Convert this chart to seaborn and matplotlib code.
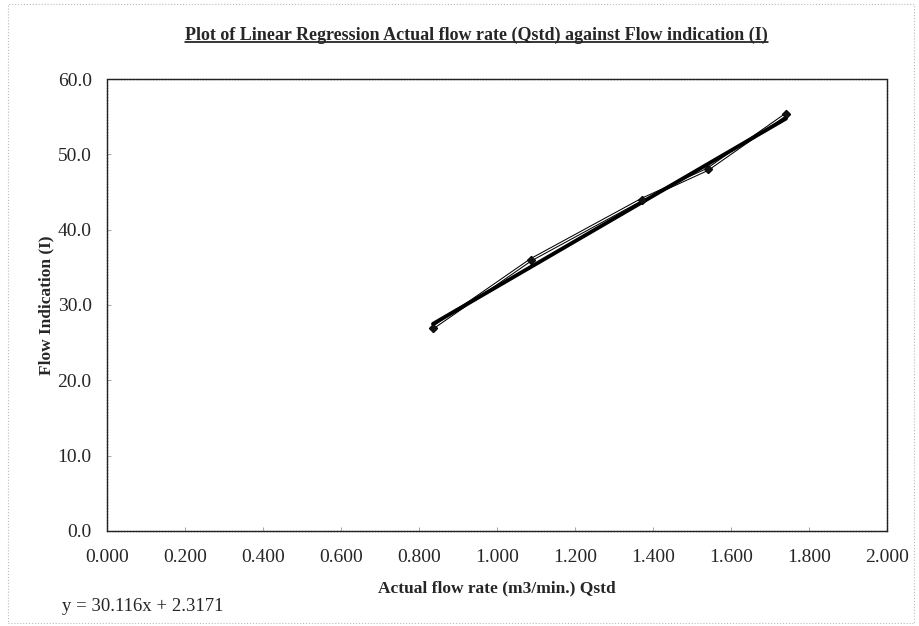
import numpy as np
import pandas as pd
import seaborn as sns
import matplotlib.pyplot as plt
from matplotlib.lines import Line2D
from matplotlib.patches import Rectangle

# values
qstd = [0.836, 1.087, 1.371, 1.540, 1.741]      # Actual flow rate (m3/min.)
flow_ind = [27.0, 36.0, 44.0, 48.0, 55.3]       # Flow indication (I)
x_ticks = [0.0, 0.2, 0.4, 0.6, 0.8, 1.0, 1.2, 1.4, 1.6, 1.8, 2.0]
y_ticks = [0, 10, 20, 30, 40, 50, 60]
slope = 30.116
intercept = 2.3171

df = pd.DataFrame({"Qstd": qstd, "I": flow_ind})

sns.set_theme(style="white")
plt.rcParams['font.family'] = ['Liberation Serif', 'DejaVu Serif']

fig = plt.figure(figsize=(9.2, 6.26), dpi=100)
ax = fig.add_axes([0.1163, 0.1518, 0.8478, 0.722])

# data series: double outlined line with diamond markers
sns.lineplot(data=df, x="Qstd", y="I", ax=ax, color="black", lw=2.4,
             marker="D", markersize=4.5, markeredgecolor="black", sort=False)
sns.lineplot(data=df, x="Qstd", y="I", ax=ax, color="white", lw=0.9, sort=False)

# linear trendline from the equation on the chart
xs = np.array([min(qstd), max(qstd)])
sns.lineplot(x=xs, y=slope * xs + intercept, ax=ax, color="black", lw=2.8)
sns.scatterplot(data=df, x="Qstd", y="I", ax=ax, color="#111111", marker="D",
                s=20, edgecolor="black", zorder=5)

ax.set_xlim(0, 2.0)
ax.set_ylim(0, 60)
ax.set_xticks(x_ticks)
ax.set_yticks(y_ticks)
ax.set_xticklabels([f"{v:.3f}" for v in x_ticks], fontsize=14)
ax.set_yticklabels([f"{v:.1f}" for v in y_ticks], fontsize=14)
ax.tick_params(direction="in", length=3, width=0.6, color="#999999", pad=13,
               bottom=True, left=True)
ax.tick_params(axis="y", pad=11)

for sp in ax.spines.values():
    sp.set_color("#222222")
    sp.set_linewidth(1.0)
    sp.set_linestyle((0, (1.5, 0.6)))

ax.set_xlabel("Actual flow rate (m3/min.) Qstd", fontsize=12.5, fontweight="bold", labelpad=10)
ax.set_ylabel("Flow Indication (I)", fontsize=12.5, fontweight="bold", labelpad=2)

title = fig.text(0.518, 0.944, "Plot of Linear Regression Actual flow rate (Qstd) against Flow indication (I)",
                 ha="center", va="center", fontsize=13, fontweight="bold")
fig.text(0.067, 0.031, f"y = {slope}x + {intercept}", fontsize=13.5, ha="left", va="center")

# underline the title
fig.canvas.draw()
bb = title.get_window_extent().transformed(fig.transFigure.inverted())
fig.add_artist(Line2D([bb.x0, bb.x1], [bb.y0 + 0.002, bb.y0 + 0.002],
                      transform=fig.transFigure, color="black", lw=1.1))

# light dotted page border
fig.add_artist(Rectangle((0.009, 0.004), 0.985, 0.99, transform=fig.transFigure,
                         fill=False, edgecolor="#bbbbbb", lw=0.8, linestyle=":"))

fig.savefig("out.png", dpi=100)
